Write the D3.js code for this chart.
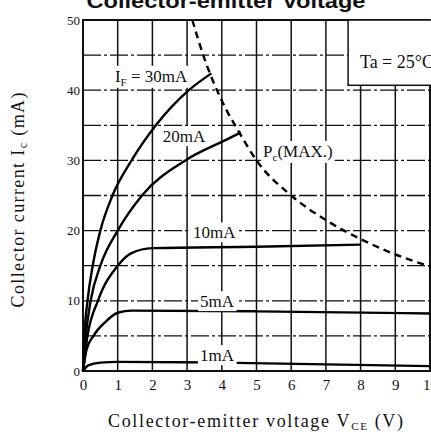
<!DOCTYPE html>
<html>
<head>
<meta charset="utf-8">
<script src="https://cdn.jsdelivr.net/npm/d3@7"></script>
<style>
  html, body { margin: 0; padding: 0; background: #fff; }
  svg { display: block; }
  text { fill: #111; }
</style>
</head>
<body>
<svg id="chart" width="431" height="436"></svg>
<script>
// axis ticks
const vceTicks = [0, 1, 2, 3, 4, 5, 6, 7, 8, 9, 10];
const icTicks = [0, 10, 20, 30, 40, 50];
const icGrid = [5, 10, 15, 20, 25, 30, 35, 40, 45];

// output curves, [Vce (V), Ic (mA)]
const curveIF30 = [[0, 0], [0.04, 5], [0.13, 10], [0.28, 15], [0.5, 20], [0.85, 25], [1.4, 30], [2.1, 35], [3.05, 40], [3.7, 42.4]];
const curveIF20 = [[0, 0], [0.08, 5], [0.22, 10], [0.5, 15], [1.0, 20], [1.7, 25], [2.95, 30], [4.15, 33], [4.55, 34]];
const curveIF10 = [[0, 0], [0.13, 5], [0.43, 10], [1.0, 15], [1.4, 16.8], [2.0, 17.5], [5, 17.7], [8, 18]];
const curveIF5 = [[0, 0], [0.1, 3], [0.3, 5], [0.65, 7], [1.0, 8.3], [1.4, 8.6], [5, 8.5], [10, 8.2]];
const curveIF1 = [[0, 0], [0.15, 0.8], [0.5, 1.2], [1.0, 1.3], [4, 1.2], [10, 0.7]];
// collector dissipation limit
const pcMax = [[3.15, 50], [3.5, 44.5], [4, 38.5], [4.5, 34], [5, 30], [6, 25], [7, 21.5], [8, 18.8], [9, 16.6], [10, 14.9]];

// curve labels, anchored in data units
const curveLabels = [
    { main: "I", sub: "F", rest: " = 30mA", v: 0.92, ic: 41.2 },
    { main: "20mA", v: 2.3, ic: 32.6 },
    { main: "10mA", v: 3.17, ic: 18.9 },
    { main: "5mA", v: 3.37, ic: 9.1 },
    { main: "1mA", v: 3.37, ic: 1.4 },
    { main: "P", sub: "c", rest: "(MAX.)", v: 5.19, ic: 30.5 }
];

const svg = d3.select("#chart");

const x = d3.scaleLinear().domain([0, 10]).range([83, 430]);
const y = d3.scaleLinear().domain([0, 50]).range([371, 20]);

const serif = "'Liberation Serif', 'Times New Roman', serif";

//title, cut off at the top of the picture
svg.append("text")
    .attr("x", 226)
    .attr("y", 8)
    .attr("text-anchor", "middle")
    .attr("textLength", 279)
    .attr("lengthAdjust", "spacingAndGlyphs")
    .style("font-family", "'Liberation Sans', Arial, sans-serif")
    .style("font-weight", "bold")
    .style("font-size", "21px")
    .text("Collector-emitter Voltage");

//grid
const grid = svg.append("g");
grid.selectAll(".vgrid")
    .data(vceTicks.slice(1, -1))
    .enter()
    .append("line")
    .attr("x1", d => x(d)).attr("x2", d => x(d))
    .attr("y1", y(50)).attr("y2", y(0))
    .style("stroke", "#111")
    .style("stroke-width", 1.5);

grid.selectAll(".hgrid")
    .data(icGrid)
    .enter()
    .append("line")
    .attr("x1", x(0)).attr("x2", x(10))
    .attr("y1", d => y(d)).attr("y2", d => y(d))
    .style("stroke", "#111")
    .style("stroke-width", 1.3)
    .style("stroke-dasharray", "18,3,3,3");

//frame
svg.append("path")
    .attr("d", `M${x(10)},${y(50)}H${x(0)}V${y(0)}H${x(10)}V${y(50)}`)
    .style("fill", "none")
    .style("stroke", "#111")
    .style("stroke-width", 2);

//Ta box
const taBox = svg.append("g");
taBox.append("rect")
    .attr("x", x(7.64))
    .attr("y", y(50))
    .attr("width", x(10) - x(7.64) + 5)
    .attr("height", y(40.7) - y(50))
    .style("fill", "#fff")
    .style("stroke", "#111")
    .style("stroke-width", 1.5);
taBox.append("text")
    .attr("x", x(7.98))
    .attr("y", y(43.2))
    .style("font-family", serif)
    .style("font-size", "18px")
    .text("Ta = 25°C");

//curve labels with white-out behind them
const labelLayer = svg.append("g");
const labels = labelLayer.selectAll(".clabel")
    .data(curveLabels)
    .enter()
    .append("text")
    .attr("class", "clabel")
    .attr("x", d => x(d.v))
    .attr("y", d => y(d.ic))
    .style("font-family", serif)
    .style("font-size", "17px");

labels.each(function (d) {
    const t = d3.select(this);
    t.append("tspan").text(d.main);
    if (d.sub) {
        t.append("tspan").attr("dy", 4).style("font-size", "11px").text(d.sub);
        t.append("tspan").attr("dy", -4).text(d.rest);
    }
});

labels.each(function () {
    const b = this.getBBox();
    labelLayer.insert("rect", "text")
        .attr("x", b.x - 2)
        .attr("y", b.y - 1)
        .attr("width", b.width + 4)
        .attr("height", b.height + 1)
        .style("fill", "#fff");
});

//curves
const line = d3.line()
    .x(d => x(d[0]))
    .y(d => y(d[1]))
    .curve(d3.curveMonotoneX);

const curves = svg.append("g");
[curveIF30, curveIF20, curveIF10, curveIF5, curveIF1].forEach(c => {
    curves.append("path")
        .attr("d", line(c))
        .style("fill", "none")
        .style("stroke", "#000")
        .style("stroke-width", 2.4);
});

curves.append("path")
    .attr("d", line(pcMax))
    .style("fill", "none")
    .style("stroke", "#000")
    .style("stroke-width", 2.4)
    .style("stroke-dasharray", "7,5");

labelLayer.raise();

//axes
const xAxis = svg.append("g")
    .attr("transform", `translate(0, ${y(0) + 4})`)
    .call(d3.axisBottom(x).tickValues(vceTicks).tickSize(0).tickPadding(4));
xAxis.select(".domain").remove();
xAxis.selectAll("text")
    .style("font-family", serif)
    .style("font-size", "15px")
    .style("fill", "#111");

const yAxis = svg.append("g")
    .attr("transform", `translate(${x(0) - 3}, 0)`)
    .call(d3.axisLeft(y).tickValues(icTicks).tickSize(0).tickPadding(0));
yAxis.select(".domain").remove();
yAxis.selectAll("text")
    .style("font-family", serif)
    .style("font-size", "13px")
    .style("fill", "#111");

//axis titles
const xTitle = svg.append("text")
    .attr("x", 108)
    .attr("y", 427)
    .attr("textLength", 295)
    .style("font-family", serif)
    .style("font-size", "18px");
xTitle.append("tspan").text("Collector-emitter voltage V");
xTitle.append("tspan").attr("dy", 3).style("font-size", "11px").text("CE");
xTitle.append("tspan").attr("dy", -3).text(" (V)");

const yTitle = svg.append("text")
    .attr("transform", "translate(24, 200) rotate(-90)")
    .attr("text-anchor", "middle")
    .attr("textLength", 215)
    .style("font-family", serif)
    .style("font-size", "18px");
yTitle.append("tspan").text("Collector current I");
yTitle.append("tspan").attr("dy", 3).style("font-size", "12px").text("c");
yTitle.append("tspan").attr("dy", -3).text(" (mA)");
</script>
</body>
</html>
